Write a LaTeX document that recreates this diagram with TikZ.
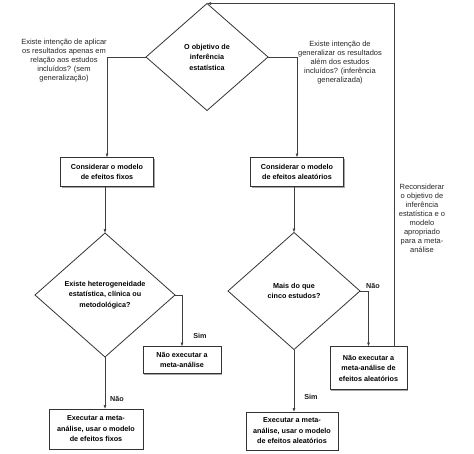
\documentclass[tikz,border=0pt]{standalone}
\usepackage{fontspec}
\setmainfont{Liberation Sans}
\usetikzlibrary{shapes.geometric,arrows.meta,shadows}
\begin{document}
\begin{tikzpicture}[x=1pt,y=-1pt,
  every node/.style={inner sep=0pt,outer sep=0pt},
  dia/.style={shape=diamond,draw=black!80,line width=0.8pt,align=center,
    font=\fontsize{7.2}{10.5}\selectfont\bfseries},
  boxn/.style={draw=black!80,line width=0.9pt,fill=white,align=center,
    font=\fontsize{7.2}{10.5}\selectfont\bfseries,
    drop shadow={shadow xshift=1pt,shadow yshift=-1pt,fill=black!35,opacity=1}},
  note/.style={align=center,text=black!85,font=\fontsize{7.5}{9}\selectfont},
  lab/.style={text=black!90,font=\fontsize{7.2}{9}\selectfont\bfseries},
  arr/.style={draw=black!75,line width=0.6pt,-{Latex[length=4pt,width=3pt]}},
  ln/.style={draw=black!75,line width=0.6pt}]
\useasboundingbox (0,0) rectangle (474,453);
% diamonds
\node[dia,minimum width=122pt,minimum height=107pt] (d1) at (207,57) {O objetivo de\\inferência\\estatística};
\node[dia,minimum width=140pt,minimum height=124pt] (d2) at (105,295) {Existe heterogeneidade\\estatística, clínica ou\\metodológica?};
\node[dia,minimum width=132pt,minimum height=117pt] (d3) at (294,291) {Mais do que\\cinco estudos?};
% boxes
\node[boxn,minimum width=93pt,minimum height=29pt] (b1) at (107,172) {Considerar o modelo\\de efeitos fixos};
\node[boxn,minimum width=93pt,minimum height=29pt] (b2) at (297,172) {Considerar o modelo\\de efeitos aleatórios};
\node[boxn,minimum width=78pt,minimum height=27pt] (n1) at (182,360) {Não executar a\\meta-análise};
\node[boxn,minimum width=77pt,minimum height=43pt] (n2) at (368.5,368) {Não executar a\\meta-análise de\\efeitos aleatórios};
\node[boxn,minimum width=94pt,minimum height=40pt] (e1) at (96,429) {Executar a meta-\\análise, usar o modelo\\de efeitos fixos};
\node[boxn,minimum width=92pt,minimum height=38pt] (e2) at (292,431) {Executar a meta-\\análise, usar o modelo\\de efeitos aleatórios};
% notes
\node[note] (t1) at (64,61) {Existe intenção de aplicar\\os resultados apenas em\\relação aos estudos\\incluídos? (sem\\generalização)};
\node[note] (t2) at (340,63) {Existe intenção de\\generalizar os resultados\\além dos estudos\\incluídos? (inferência\\generalizada)};
\node[note] (t3) at (422,218) {Reconsiderar\\o objetivo de\\inferência\\estatística e o\\modelo\\apropriado\\para a meta-\\análise};
% labels
\node[lab] (l1) at (200,336) {Sim};
\node[lab] (l2) at (117,399) {Não};
\node[lab] (l3) at (373,286) {Não};
\node[lab] (l4) at (311,397) {Sim};
% connectors
\draw[arr] (d1.west) -| (b1.north);
\draw[arr] (d1.east) -| (b2.north);
\draw[arr] (d2.north |- b1.south) -- (d2.north);
\draw[arr] (d3.north |- b2.south) -- (d3.north);
\draw[arr] (d2.east) -| (n1.north);
\draw[arr] (d2.south) -- (d2.south |- e1.north);
\draw[arr] (d3.east) -| (n2.north);
\draw[arr] (d3.south) -- (d3.south |- e2.north);
\coordinate (fb) at (394,0);
\coordinate (fbs) at (fb |- n2.north);
\draw[arr] (fbs) |- (d1.north);
\end{tikzpicture}
\end{document}
